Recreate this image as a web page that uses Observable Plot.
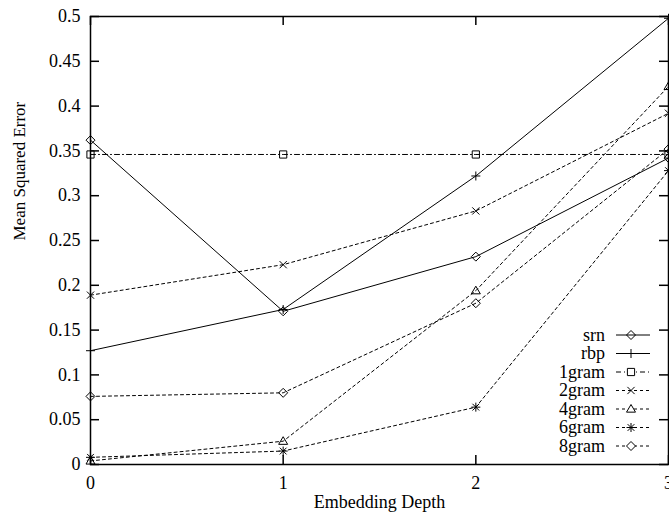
<!DOCTYPE html>
<html>
<head>
<meta charset="utf-8">
<script src="https://cdn.jsdelivr.net/npm/d3@7"></script>
<script src="https://cdn.jsdelivr.net/npm/@observablehq/plot@0.6"></script>
<style>
  html, body { margin: 0; padding: 0; background: #fff; }
</style>
</head>
<body>
<div id="chart"></div>
<script>
// Embedding depth on x, mean squared error per model on y
const depth = [0, 1, 2, 3];
const srn   = [0.362, 0.171, 0.232, 0.342];
const rbp   = [0.127, 0.173, 0.322, 0.498];
const gram1 = [0.346, 0.346, 0.346, 0.346];
const gram2 = [0.189, 0.223, 0.283, 0.392];
const gram4 = [0.004, 0.026, 0.194, 0.422];
const gram6 = [0.008, 0.015, 0.064, 0.328];
const gram8 = [0.076, 0.080, 0.180, 0.352];

const seriesNames = ["srn", "rbp", "1gram", "2gram", "4gram", "6gram", "8gram"];
const xTicks = [0, 1, 2, 3];
const yTicks = [0, 0.05, 0.1, 0.15, 0.2, 0.25, 0.3, 0.35, 0.4, 0.45, 0.5];

// Open point shapes in the classic gnuplot style; r is the half-size in px
const shape = (fn) => ({ draw(ctx, size) { fn(ctx, Math.sqrt(size / Math.PI)); } });
const diamond = shape((c, r) => { c.moveTo(0, -r); c.lineTo(r, 0); c.lineTo(0, r); c.lineTo(-r, 0); c.closePath(); });
const plus = shape((c, r) => { c.moveTo(-r, 0); c.lineTo(r, 0); c.moveTo(0, -r); c.lineTo(0, r); });
const square = shape((c, r) => { const s = r * 0.8; c.moveTo(-s, -s); c.lineTo(s, -s); c.lineTo(s, s); c.lineTo(-s, s); c.closePath(); });
const cross = shape((c, r) => { const s = r * 0.8; c.moveTo(-s, -s); c.lineTo(s, s); c.moveTo(-s, s); c.lineTo(s, -s); });
const triangle = shape((c, r) => { c.moveTo(0, -r); c.lineTo(r, r * 0.7); c.lineTo(-r, r * 0.7); c.closePath(); });
const star = shape((c, r) => {
  const s = r * 0.75;
  c.moveTo(-r, 0); c.lineTo(r, 0); c.moveTo(0, -r); c.lineTo(0, r);
  c.moveTo(-s, -s); c.lineTo(s, s); c.moveTo(-s, s); c.lineTo(s, -s);
});

const series = [
  { name: seriesNames[0], values: srn,   symbol: diamond,  dash: null },
  { name: seriesNames[1], values: rbp,   symbol: plus,     dash: null },
  { name: seriesNames[2], values: gram1, symbol: square,   dash: "5,3,1,3" },
  { name: seriesNames[3], values: gram2, symbol: cross,    dash: "3,3" },
  { name: seriesNames[4], values: gram4, symbol: triangle, dash: "3,3" },
  { name: seriesNames[5], values: gram6, symbol: star,     dash: "3,3" },
  { name: seriesNames[6], values: gram8, symbol: diamond,  dash: "3,3" }
];

const rows = (s) => depth.map((d, i) => ({ series: s.name, depth: d, mse: s.values[i] }));

const W = 669, H = 517;
const mL = 90, mR = 1, mT = 16, mB = 53;
const innerW = W - mL - mR, innerH = H - mT - mB;
const tick = 9;
const fmt = (d) => String(+d.toFixed(2));

const marks = [];
for (const s of series) {
  marks.push(Plot.line(rows(s), {
    x: "depth", y: "mse", stroke: "black", strokeWidth: 1,
    strokeDasharray: s.dash ?? undefined
  }));
  marks.push(Plot.dot(rows(s), {
    x: "depth", y: "mse", symbol: s.symbol, r: 4.5,
    stroke: "black", fill: "none", strokeWidth: 1
  }));
}

const plot = Plot.plot({
  width: W,
  height: H,
  marginLeft: mL,
  marginRight: mR,
  marginTop: mT,
  marginBottom: mB,
  style: { fontFamily: "'Liberation Serif', 'Times New Roman', serif", fontSize: "18px", background: "white", color: "black" },
  x: { domain: [0, 3] },
  y: { domain: [0, 0.5] },
  marks: [
    ...marks,
    // inward tick marks on all four sides
    Plot.tickY(yTicks, { y: (d) => d, insetRight: innerW - tick, stroke: "black", strokeWidth: 1.5 }),
    Plot.tickY(yTicks, { y: (d) => d, insetLeft: innerW - tick, stroke: "black", strokeWidth: 1.5 }),
    Plot.tickX(xTicks, { x: (d) => d, insetTop: innerH - tick, stroke: "black", strokeWidth: 1.5 }),
    Plot.tickX(xTicks, { x: (d) => d, insetBottom: innerH - tick, stroke: "black", strokeWidth: 1.5 }),
    Plot.frame({ stroke: "black", strokeWidth: 1.5 }),
    Plot.axisY(yTicks, { tickSize: 0, tickPadding: 10, tickFormat: fmt, label: null }),
    Plot.axisX(xTicks, { tickSize: 0, tickPadding: 12, tickFormat: fmt, label: null }),
    Plot.text(["Mean Squared Error"], { text: (d) => d, frameAnchor: "left", dx: -71, rotate: -90, fontSize: 17 }),
    Plot.text(["Embedding Depth"], { text: (d) => d, frameAnchor: "bottom", dy: 43, fontSize: 18 })
  ]
});

document.getElementById("chart").appendChild(plot);

// Key in the lower right corner of the frame
const svg = d3.select(plot);
const key = svg.append("g").attr("font-family", "'Liberation Serif', 'Times New Roman', serif").attr("font-size", 18);
const keyTop = 335, keyStep = 18.5, textRight = 605, sampleX1 = 616, sampleX2 = 650, sampleMid = 631;
series.forEach((s, i) => {
  const y = keyTop + i * keyStep;
  key.append("text").attr("x", textRight).attr("y", y).attr("dy", "0.32em")
    .attr("text-anchor", "end").attr("fill", "black").text(s.name);
  key.append("line").attr("x1", sampleX1).attr("x2", sampleX2).attr("y1", y).attr("y2", y)
    .attr("stroke", "black").attr("stroke-width", 1)
    .attr("stroke-dasharray", s.dash ?? null);
  key.append("path").attr("transform", `translate(${sampleMid},${y})`)
    .attr("d", d3.symbol(s.symbol, Math.PI * 4.5 * 4.5)())
    .attr("fill", s.dash ? "white" : "none").attr("stroke", "black").attr("stroke-width", 1);
});
</script>
</body>
</html>
